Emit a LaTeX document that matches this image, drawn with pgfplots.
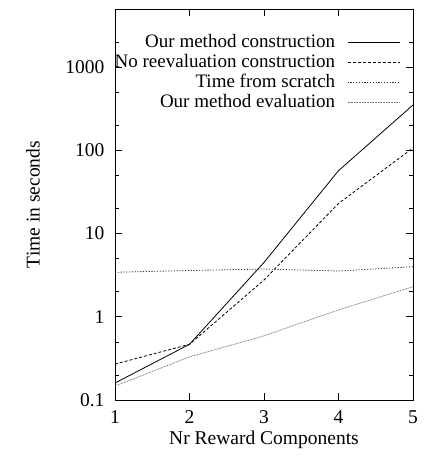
\documentclass[border=0pt]{standalone}
\usepackage{pgfplots}
\pgfplotsset{compat=1.18}
\usepackage{fontspec}
\setmainfont{Liberation Serif}
\begin{document}
\begin{tikzpicture}
\begin{axis}[
  at={(0,0)}, anchor=south west,
  scale only axis, width=298bp, height=391bp,
  xmin=1, xmax=5, ymode=log, ymin=0.1, ymax=5000,
  xtick={1,2,3,4,5}, ytick={0.1,1,10,100,1000},
  yticklabels={0.1,1,10,100,1000},
  minor ytick={0.2,0.5,2,5,20,50,200,500,2000,5000},
  tick pos=both, tick align=inside,
  major tick length=7bp, minor tick length=4bp,
  every tick/.style={black, line width=0.6bp},
  axis line style={line width=0.9bp},
  /pgf/number format/assume math mode=true,
  tick label style={font=\fontsize{19.5bp}{22bp}\selectfont},
  yticklabel style={xshift=-7bp},
  xticklabel style={yshift=-7bp},
  label style={font=\fontsize{19.5bp}{22bp}\selectfont},
  xlabel={Nr Reward Components},
  ylabel={Time in seconds},
  xlabel style={at={(axis description cs:0.5,-0.102)}, anchor=center},
  ylabel style={at={(axis description cs:-0.275,0.5)}, anchor=center},
  legend style={at={(rel axis cs:0.957,0.94)}, anchor=north east, draw=none, fill=none,
    font=\fontsize{19bp}{19bp}\selectfont, row sep=1.3pt, inner sep=0pt,
    /tikz/column sep=10bp},
  legend cell align=right,
  legend plot pos=right,
  legend image code/.code={\draw[#1] (0bp,0bp) -- (52bp,0bp);},
]
\addplot[black, line width=0.8bp] coordinates {(1,0.16) (2,0.467) (3,4.5) (4,57) (5,351)};
\addlegendentry{Our method construction}
\addplot[black, line width=0.8bp, dash pattern=on 3bp off 2bp] coordinates {(1,0.27) (2,0.467) (3,2.77) (4,23) (5,107)};
\addlegendentry{No reevaluation construction}
\addplot[black!80, line width=0.8bp, dash pattern=on 1.2bp off 1.6bp] coordinates {(1,3.43) (2,3.6) (3,3.75) (4,3.55) (5,4.0)};
\addlegendentry{Time from scratch}
\addplot[black!55, line width=0.8bp, dash pattern=on 0.8bp off 0.8bp] coordinates {(1,0.147) (2,0.33) (3,0.59) (4,1.21) (5,2.3)};
\addlegendentry{Our method evaluation}
\end{axis}
\pgfresetboundingbox
\path (-115bp,-60bp) rectangle (313bp,400bp);
\end{tikzpicture}
\end{document}
